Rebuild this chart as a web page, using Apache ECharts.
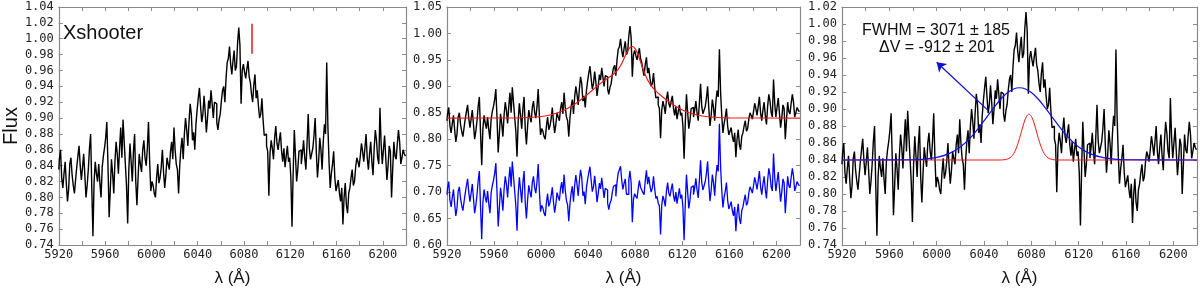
<!DOCTYPE html>
<html><head><meta charset="utf-8">
<script src="https://cdn.jsdelivr.net/npm/echarts@6/dist/echarts.min.js"></script>
<style>html,body{margin:0;padding:0;background:#fff}#c{width:1200px;height:292px}</style>
</head><body><div id="c"></div>
<script>
// ---- data ----
const wavelength = [
5920,5921,5922,5923,5924,5925,5926,5927,5928,5929,5930,5931,5932,5933,5934,5935,5936,5937,5938,5939,
5940,5941,5942,5943,5944,5945,5946,5947,5948,5949,5950,5951,5952,5953,5954,5955,5956,5957,5958,5959,
5960,5961,5962,5963,5964,5965,5966,5967,5968,5969,5970,5971,5972,5973,5974,5975,5976,5977,5978,5979,
5980,5981,5982,5983,5984,5985,5986,5987,5988,5989,5990,5991,5992,5993,5994,5995,5996,5997,5998,5999,
6000,6001,6002,6003,6004,6005,6006,6007,6008,6009,6010,6011,6012,6013,6014,6015,6016,6017,6018,6019,
6020,6021,6022,6023,6024,6025,6026,6027,6028,6029,6030,6031,6032,6033,6034,6035,6036,6037,6038,6039,
6040,6041,6042,6043,6044,6045,6046,6047,6048,6049,6050,6051,6052,6053,6054,6055,6056,6057,6058,6059,
6060,6061,6062,6063,6064,6065,6066,6067,6068,6069,6070,6071,6072,6073,6074,6075,6076,6077,6078,6079,
6080,6081,6082,6083,6084,6085,6086,6087,6088,6089,6090,6091,6092,6093,6094,6095,6096,6097,6098,6099,
6100,6101,6102,6103,6104,6105,6106,6107,6108,6109,6110,6111,6112,6113,6114,6115,6116,6117,6118,6119,
6120,6121,6122,6123,6124,6125,6126,6127,6128,6129,6130,6131,6132,6133,6134,6135,6136,6137,6138,6139,
6140,6141,6142,6143,6144,6145,6146,6147,6148,6149,6150,6151,6152,6153,6154,6155,6156,6157,6158,6159,
6160,6161,6162,6163,6164,6165,6166,6167,6168,6169,6170,6171,6172,6173,6174,6175,6176,6177,6178,6179,
6180,6181,6182,6183,6184,6185,6186,6187,6188,6189,6190,6191,6192,6193,6194,6195,6196,6197,6198,6199,
6200,6201,6202,6203,6204,6205,6206,6207,6208,6209,6210,6211,6212,6213,6214,6215,6216,6217,6218,6219,6220];
const flux = [
0.835,0.848,0.860,0.825,0.812,0.830,0.845,0.818,0.795,0.810,0.842,0.850,0.828,0.815,0.805,0.822,0.838,0.852,0.865,0.840,
0.822,0.838,0.855,0.828,0.800,0.815,0.835,0.862,0.880,0.812,0.751,0.820,0.845,0.830,0.820,0.842,0.818,0.800,0.838,0.852,
0.862,0.875,0.895,0.840,0.775,0.810,0.848,0.830,0.805,0.845,0.870,0.855,0.830,0.862,0.888,0.850,0.898,0.870,0.842,0.815,
0.767,0.835,0.868,0.845,0.820,0.858,0.880,0.820,0.790,0.825,0.855,0.842,0.832,0.860,0.872,0.850,0.840,0.862,0.895,0.845,
0.808,0.820,0.815,0.805,0.800,0.825,0.842,0.818,0.825,0.838,0.860,0.832,0.812,0.828,0.850,0.842,0.835,0.858,0.870,0.848,
0.888,0.860,0.842,0.835,0.805,0.840,0.862,0.875,0.848,0.880,0.900,0.885,0.865,0.895,0.918,0.905,0.872,0.882,0.860,0.892,
0.910,0.925,0.938,0.915,0.895,0.905,0.928,0.908,0.882,0.900,0.922,0.912,0.935,0.918,0.900,0.920,0.918,0.895,0.885,0.898,
0.905,0.922,0.935,0.940,0.920,0.950,0.970,0.975,0.990,0.968,0.955,0.972,0.985,0.960,0.965,0.995,1.014,0.992,0.918,0.960,
0.968,0.958,0.950,0.962,0.972,0.952,0.945,0.930,0.920,0.942,0.955,0.925,0.935,0.915,0.900,0.905,0.925,0.898,0.878,0.880,
0.865,0.858,0.802,0.855,0.872,0.862,0.848,0.875,0.890,0.868,0.860,0.872,0.882,0.858,0.845,0.862,0.838,0.852,0.865,0.845,
0.850,0.825,0.763,0.830,0.885,0.852,0.820,0.835,0.858,0.860,0.842,0.855,0.872,0.850,0.835,0.868,0.905,0.862,0.848,0.855,
0.862,0.878,0.900,0.858,0.825,0.845,0.875,0.860,0.835,0.870,0.892,0.880,0.970,0.890,0.845,0.812,0.830,0.842,0.858,0.825,
0.808,0.815,0.822,0.805,0.795,0.812,0.766,0.800,0.818,0.790,0.780,0.805,0.812,0.825,0.835,0.815,0.820,0.838,0.850,0.845,
0.838,0.852,0.868,0.858,0.845,0.862,0.880,0.850,0.835,0.855,0.870,0.845,0.828,0.862,0.885,0.872,0.850,0.842,0.913,0.868,
0.842,0.860,0.878,0.850,0.822,0.840,0.865,0.858,0.800,0.835,0.870,0.852,0.848,0.868,0.885,0.870,0.842,0.850,0.860,0.855,0.852];
const residual = [
0.695,0.708,0.720,0.685,0.672,0.690,0.705,0.678,0.655,0.670,0.702,0.710,0.688,0.675,0.665,0.682,0.698,0.712,0.725,0.700,
0.682,0.698,0.715,0.688,0.660,0.675,0.695,0.722,0.740,0.672,0.611,0.680,0.705,0.690,0.680,0.702,0.678,0.660,0.698,0.712,
0.722,0.735,0.755,0.700,0.635,0.670,0.708,0.690,0.665,0.705,0.730,0.715,0.690,0.722,0.748,0.710,0.758,0.730,0.702,0.675,
0.627,0.695,0.728,0.705,0.680,0.718,0.740,0.680,0.650,0.685,0.713,0.700,0.690,0.718,0.730,0.708,0.698,0.720,0.753,0.703,
0.663,0.675,0.670,0.660,0.655,0.680,0.697,0.673,0.680,0.693,0.709,0.681,0.661,0.677,0.699,0.691,0.684,0.707,0.719,0.697,
0.733,0.703,0.684,0.676,0.645,0.678,0.699,0.711,0.682,0.713,0.732,0.715,0.693,0.721,0.742,0.728,0.693,0.701,0.677,0.708,
0.724,0.737,0.748,0.723,0.701,0.710,0.731,0.709,0.681,0.697,0.717,0.706,0.727,0.708,0.689,0.707,0.704,0.679,0.667,0.679,
0.684,0.700,0.711,0.714,0.692,0.719,0.736,0.737,0.749,0.722,0.705,0.717,0.725,0.696,0.696,0.723,0.740,0.717,0.643,0.687,
0.697,0.692,0.688,0.706,0.722,0.709,0.708,0.699,0.695,0.722,0.741,0.715,0.729,0.712,0.700,0.708,0.730,0.706,0.688,0.692,
0.679,0.674,0.620,0.675,0.693,0.685,0.673,0.702,0.718,0.698,0.692,0.705,0.716,0.694,0.682,0.700,0.678,0.693,0.707,0.688,
0.695,0.671,0.609,0.677,0.733,0.701,0.669,0.685,0.709,0.712,0.695,0.708,0.726,0.704,0.689,0.723,0.760,0.718,0.704,0.712,
0.720,0.736,0.758,0.716,0.683,0.703,0.733,0.718,0.693,0.728,0.751,0.739,0.829,0.749,0.704,0.671,0.690,0.702,0.718,0.685,
0.668,0.675,0.682,0.665,0.655,0.672,0.626,0.660,0.678,0.650,0.640,0.665,0.672,0.685,0.695,0.675,0.680,0.698,0.710,0.705,
0.698,0.712,0.728,0.718,0.705,0.722,0.740,0.710,0.695,0.715,0.730,0.705,0.688,0.722,0.745,0.732,0.710,0.702,0.773,0.728,
0.702,0.720,0.738,0.710,0.682,0.700,0.725,0.718,0.660,0.695,0.730,0.712,0.708,0.728,0.745,0.730,0.702,0.710,0.720,0.715,0.712];
const fitX = [5920,5980,5990,6000,6010,6020,6030,6040,6045,6050,6055,6058,6060,6062,6064,6066,6068,6070,6072,6074,6076,6078,6080,6082,6084,6086,6088,6090,6092,6094,6096,6098,6100,6110,6120,6130,6140,6150,6160,6220];
const fitTotal = [0.840,0.8403,0.8411,0.8430,0.8472,0.8553,0.8684,0.8859,0.8954,0.9046,0.9130,0.9175,0.9206,0.9239,0.9282,0.9339,0.9412,0.9503,0.9600,0.9688,0.9744,0.9753,0.9709,0.9617,0.9496,0.9366,0.9246,0.9144,0.9063,0.8999,0.8947,0.8901,0.8859,0.8684,0.8553,0.8472,0.8430,0.8411,0.8403,0.840];
const broadX = [5920,5980,5990,6000,6010,6020,6030,6040,6045,6050,6055,6060,6065,6070,6075,6080,6085,6090,6095,6100,6110,6120,6130,6140,6150,6160,6220];
const broadY = [0.840,0.8403,0.8411,0.8430,0.8472,0.8553,0.8684,0.8859,0.8954,0.9046,0.9129,0.9194,0.9236,0.9250,0.9236,0.9194,0.9129,0.9046,0.8954,0.8859,0.8684,0.8553,0.8472,0.8430,0.8411,0.8403,0.840];
const narrowX = [5920,6054,6058,6060,6062,6064,6066,6068,6070,6072,6074,6076,6078,6080,6082,6084,6086,6088,6090,6092,6094,6096,6098,6102,6220];
const narrowY = [0.840,0.840,0.8405,0.8412,0.8426,0.8453,0.8498,0.8565,0.8653,0.8753,0.8847,0.8915,0.894,0.8915,0.8847,0.8753,0.8653,0.8565,0.8498,0.8453,0.8426,0.8412,0.8405,0.840,0.840];
const xRange = [5920, 6220];
const yRanges = [[0.74, 1.04, 0.02], [0.60, 1.05, 0.05], [0.74, 1.02, 0.02]];
const markerLine = [[6087, 0.981], [6087, 1.019]];
const arrowLine = [[6043, 0.899], [6000, 0.955]];
const fwhmText = 'FWHM = 3071 ± 185';
const dvText = 'ΔV = -912 ± 201';

// ---- chart ----
const pairs = (xs, ys) => xs.map((x, i) => [x, ys[i]]);
const AX = '#8a8a8a';
const grids = [
  {left: 53, top: 7, width: 353, height: 243},
  {left: 447, top: 7, width: 353, height: 243},
  {left: 842, top: 7, width: 355, height: 243}
];
const xAxis = [], yAxis = [];
grids.forEach((g, gi) => {
  const base = {type: 'value', gridIndex: gi, min: xRange[0], max: xRange[1], interval: 20,
    axisLine: {show: true, onZero: false, lineStyle: {color: AX, width: 1.2}},
    axisTick: {show: true, inside: true, length: 4, lineStyle: {color: AX}},
    splitLine: {show: false}};
  xAxis.push(Object.assign({}, base, {position: 'bottom',
    axisLabel: {formatter: v => ((v - 5920) % 40 === 0 && v <= 6200) ? String(v) : '',
      fontFamily: 'DejaVu Sans Mono', fontSize: 12, color: '#222', margin: 4},
    name: 'λ (Å)', nameLocation: 'middle', nameGap: 25,
    nameTextStyle: {fontFamily: 'Liberation Sans', fontSize: 17, color: '#111'}}));
  xAxis.push(Object.assign({}, base, {position: 'top', axisLabel: {show: false}}));
  const r = yRanges[gi];
  const ybase = {type: 'value', gridIndex: gi, min: r[0], max: r[1], interval: r[2],
    axisLine: {show: true, onZero: false, lineStyle: {color: AX, width: 1.2}},
    axisTick: {show: true, inside: true, length: 4, lineStyle: {color: AX}},
    splitLine: {show: false}};
  yAxis.push(Object.assign({}, ybase, {position: 'left',
    axisLabel: {formatter: v => v.toFixed(2), fontFamily: 'DejaVu Sans Mono', fontSize: 12, color: '#222', margin: 5},
    name: gi === 0 ? 'Flux' : '', nameLocation: 'middle', nameGap: 35,
    nameTextStyle: {fontFamily: 'Liberation Sans', fontSize: 20, color: '#111'}}));
  yAxis.push(Object.assign({}, ybase, {position: 'right', axisLabel: {show: false}}));
});
const specStyle = {color: '#000', width: 1.4};
const series = [
  {type: 'line', xAxisIndex: 0, yAxisIndex: 0, step: 'middle', symbol: 'none',
    data: pairs(wavelength, flux), lineStyle: specStyle,
    markLine: {silent: true, symbol: ['none', 'none'], label: {show: false},
      lineStyle: {color: '#e8141c', width: 1.5, type: 'solid'},
      data: [[{coord: markerLine[0]}, {coord: markerLine[1]}]]}},
  {type: 'line', xAxisIndex: 2, yAxisIndex: 2, step: 'middle', symbol: 'none',
    data: pairs(wavelength, flux), lineStyle: specStyle},
  {type: 'line', xAxisIndex: 2, yAxisIndex: 2, step: 'middle', symbol: 'none',
    data: pairs(wavelength, residual), lineStyle: {color: '#0000ff', width: 1.3}},
  {type: 'line', xAxisIndex: 2, yAxisIndex: 2, symbol: 'none', smooth: 0.3,
    data: pairs(fitX, fitTotal), lineStyle: {color: '#f01818', width: 1.2}},
  {type: 'line', xAxisIndex: 4, yAxisIndex: 4, step: 'middle', symbol: 'none',
    data: pairs(wavelength, flux), lineStyle: specStyle},
  {type: 'line', xAxisIndex: 4, yAxisIndex: 4, symbol: 'none', smooth: 0.3,
    data: pairs(narrowX, narrowY), lineStyle: {color: '#f01818', width: 1}},
  {type: 'line', xAxisIndex: 4, yAxisIndex: 4, symbol: 'none', smooth: 0.3,
    data: pairs(broadX, broadY), lineStyle: {color: '#1010f0', width: 1.2},
    markLine: {silent: true, symbol: ['none', 'arrow'], symbolSize: 9, label: {show: false},
      lineStyle: {color: '#1010d0', width: 1.3, type: 'solid'},
      data: [[{coord: arrowLine[0]}, {coord: arrowLine[1]}]]}}
];
const chart = echarts.init(document.getElementById('c'), null, {renderer: 'canvas'});
chart.setOption({
  animation: false,
  backgroundColor: '#fff',
  grid: grids,
  xAxis: xAxis,
  yAxis: yAxis,
  series: series,
  graphic: [
    {type: 'text', left: 63, top: 23, style: {text: 'Xshooter', font: '20px "Liberation Sans"', fill: '#111'}},
    {type: 'text', x: 936, y: 31, style: {text: fwhmText, font: '16px "Liberation Sans"', fill: '#111', textAlign: 'center', textVerticalAlign: 'middle'}},
    {type: 'text', x: 937, y: 48, style: {text: dvText, font: '16px "Liberation Sans"', fill: '#111', textAlign: 'center', textVerticalAlign: 'middle'}}
  ]
});
</script></body></html>
